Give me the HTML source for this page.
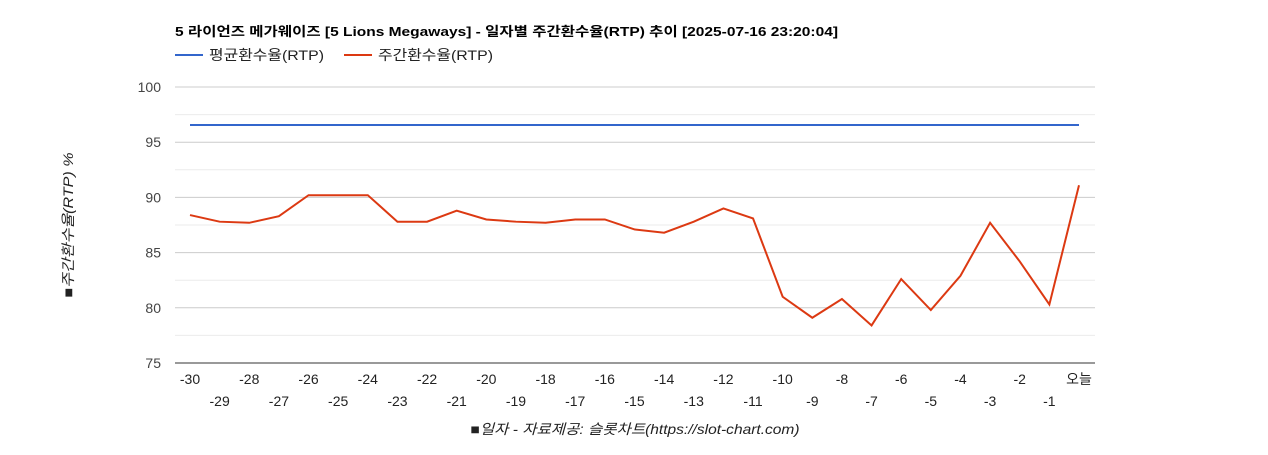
<!DOCTYPE html>
<html><head><meta charset="utf-8"><style>
body{margin:0;background:#fff;font-family:"Liberation Sans","Noto Sans CJK KR",sans-serif}
svg text{font-family:"Liberation Sans","Noto Sans CJK KR",sans-serif}
</style></head><body>
<svg id="c" width="1268" height="450" xmlns="http://www.w3.org/2000/svg">
<text x="175" y="36" font-size="13" font-weight="bold" fill="#000" textLength="663" lengthAdjust="spacingAndGlyphs">5 라이언즈 메가웨이즈 [5 Lions Megaways] - 일자별 주간환수율(RTP) 추이 [2025-07-16 23:20:04]</text>
<g><line x1="175" y1="55" x2="203" y2="55" stroke="#3366cc" stroke-width="2"/><text x="209" y="60" font-size="14" fill="#222" textLength="115" lengthAdjust="spacingAndGlyphs">평균환수율(RTP)</text></g>
<g><line x1="344" y1="55" x2="372" y2="55" stroke="#dc3912" stroke-width="2"/><text x="378" y="60" font-size="14" fill="#222" textLength="115" lengthAdjust="spacingAndGlyphs">주간환수율(RTP)</text></g>
<g id="grid"></g><g id="xt"></g><g id="series"></g>
<text transform="translate(73,225) rotate(-90)" text-anchor="middle" font-size="14" font-style="italic" fill="#222" textLength="145" lengthAdjust="spacingAndGlyphs">■주간환수율(RTP) %</text>
<text x="635" y="434" text-anchor="middle" font-size="14" font-style="italic" fill="#222" textLength="329" lengthAdjust="spacingAndGlyphs">■일자 - 자료제공: 슬롯차트(https://slot-chart.com)</text>
</svg>
<script>
const categories=[-30,-29,-28,-27,-26,-25,-24,-23,-22,-21,-20,-19,-18,-17,-16,-15,-14,-13,-12,-11,-10,-9,-8,-7,-6,-5,-4,-3,-2,-1,'오늘'];
const weeklyRtp=[88.4,87.8,87.7,88.3,90.2,90.2,90.2,87.8,87.8,88.8,88.0,87.8,87.7,88.0,88.0,87.1,86.8,87.8,89.0,88.1,81.0,79.1,80.8,78.4,82.6,79.8,82.9,87.7,84.2,80.3,91.1];
const avgRtp=categories.map(()=>96.56);
const yTicks=[75,80,85,90,95,100];
const NS='http://www.w3.org/2000/svg';
const L=175,R=1095,T=87,B=363,yMin=75,yMax=100;
const y=v=>B-(v-yMin)/(yMax-yMin)*(B-T);
const x=i=>190+i*(1079-190)/(categories.length-1);
function mk(tag,a,p){const e=document.createElementNS(NS,tag);for(const k in a)e.setAttribute(k,a[k]);p.appendChild(e);return e;}
const g=document.getElementById('grid');
for(let v=yMin;v<=yMax;v+=2.5){
 const l=mk('line',{x1:L,x2:R,y1:y(v),y2:y(v),stroke:v%5===0?(v===yMin?'#333':'#ccc'):'#ebebeb','stroke-width':1},g);
 
 
}
yTicks.forEach(v=>{const t=mk('text',{x:161,y:y(v)+5,'text-anchor':'end','font-size':14,fill:'#444'},g);t.textContent=v;
 
 });
const xt=document.getElementById('xt');
categories.forEach((c,i)=>{const t=mk('text',{x:x(i),y:i%2===0?384:406,'text-anchor':'middle','font-size':14,fill:'#222'},xt);t.textContent=c;
 
 });
const s=document.getElementById('series');
const p1=mk('polyline',{points:avgRtp.map((v,i)=>x(i)+','+y(v)).join(' '),fill:'none',stroke:'#3366cc','stroke-width':2},s);


const p2=mk('polyline',{points:weeklyRtp.map((v,i)=>x(i)+','+y(v)).join(' '),fill:'none',stroke:'#dc3912','stroke-width':2},s);


</script>
</body></html>
